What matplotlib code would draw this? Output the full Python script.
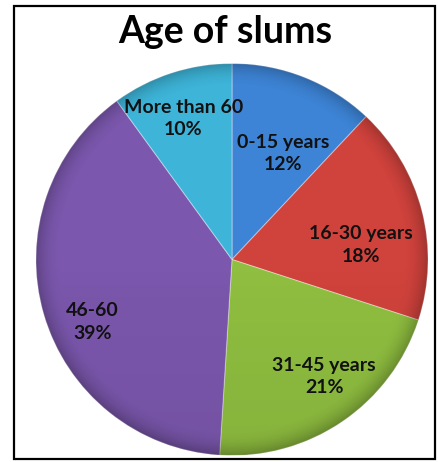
import numpy as np
import matplotlib
matplotlib.use("Agg")
import matplotlib.pyplot as plt
from matplotlib.patches import Rectangle, Circle

# Share of slums by age group
categories = ["0-15 years", "16-30 years", "31-45 years", "46-60", "More than 60"]
shares = [12, 18, 21, 39, 10]
colors = ["#3d84d6", "#d0423c", "#8fbe40", "#7b57ad", "#3db4d8"]

# label placement: radial distance (fraction of radius) and angular nudge (deg)
label_dist = [0.60, 0.66, 0.76, 0.78, 0.76]
label_nudge = [-4, -8, 4, 8, 1]

plt.rcParams["font.family"] = ["Lato", "DejaVu Sans"]

fig = plt.figure(figsize=(4.38, 4.62), dpi=100)
fig.patch.set_facecolor("white")

ax = fig.add_axes([36 / 438, 6.5 / 462, 392 / 438, 392 / 462])
wedges, _ = ax.pie(shares, colors=colors, startangle=90, counterclock=False,
                   radius=1.0,
                   wedgeprops=dict(edgecolor=(1, 1, 1, 0.35), linewidth=0.8))
ax.set_xlim(-1, 1)
ax.set_ylim(-1, 1)
ax.set_aspect("equal")
ax.axis("off")

# soft rim shading over the whole pie
yy, xx = np.mgrid[-1:1:400j, -1:1:400j]
rr = np.hypot(xx, yy)
shade = np.zeros((400, 400, 4))
shade[..., 3] = np.clip((rr - 0.88) / 0.12, 0, 1) ** 2 * 0.22 + np.clip(-yy, 0, 1) * 0.06
img = ax.imshow(shade, extent=(-1, 1, -1, 1), origin="lower", zorder=3,
                interpolation="bilinear")
img.set_clip_path(Circle((0, 0), 1.0, transform=ax.transData))

for w, name, v, d, nd in zip(wedges, categories, shares, label_dist, label_nudge):
    mid = np.deg2rad((w.theta1 + w.theta2) / 2 + nd)
    ax.text(d * np.cos(mid), d * np.sin(mid), f"{name}\n{v}%",
            ha="center", va="center", fontsize=14, fontweight="bold",
            color="#111111", linespacing=1.4, zorder=5)

fig.text(0.515, 1 - 32 / 462, "Age of slums", ha="center", va="center",
         fontsize=27, fontweight="bold", color="black")

fig.patches.append(Rectangle((14 / 438, 1 - 459 / 462), 421 / 438, 453 / 462,
                             transform=fig.transFigure, fill=False,
                             edgecolor="black", linewidth=1.6))

fig.savefig("out.png", dpi=100)
